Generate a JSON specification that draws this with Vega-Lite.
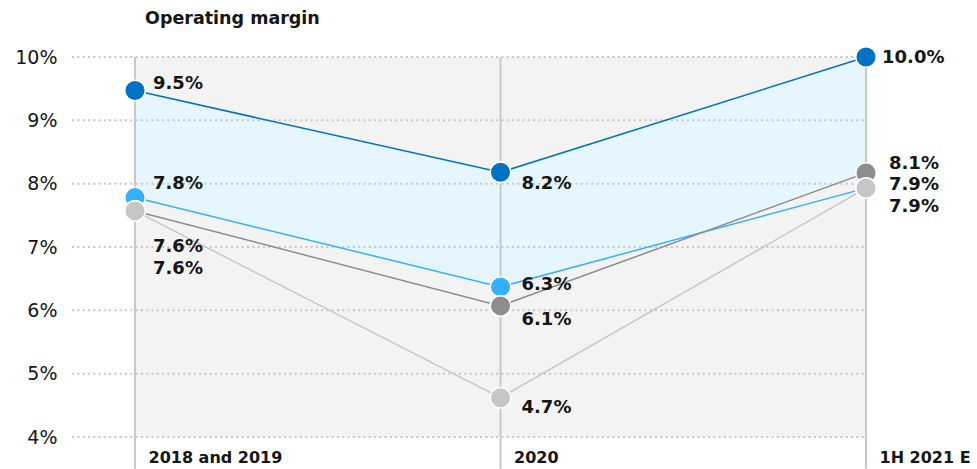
{
  "$schema": "https://vega.github.io/schema/vega-lite/v6.json",
  "width": 794,
  "height": 380,
  "autosize": {"type": "none"},
  "padding": {"left": 72, "top": 57, "right": 111, "bottom": 32},
  "background": "white",
  "config": {"font": "DejaVu Sans", "view": {"stroke": null}},
  "title": {"text": "Operating margin", "anchor": "start", "frame": "group", "dx": 73, "dy": 20, "offset": 22, "baseline": "alphabetic", "fontSize": 17.5, "fontWeight": "bold", "color": "#161616"},
  "datasets": {
    "margins": [
      {"period": "2018 and 2019", "idx": 0, "series": "A", "value": 9.47, "label": "9.5%"},
      {"period": "2020", "idx": 1, "series": "A", "value": 8.18, "label": "8.2%"},
      {"period": "1H 2021 E", "idx": 2, "series": "A", "value": 10.0, "label": "10.0%"},
      {"period": "2018 and 2019", "idx": 0, "series": "B", "value": 7.78, "label": "7.8%"},
      {"period": "2020", "idx": 1, "series": "B", "value": 6.37, "label": "6.3%"},
      {"period": "1H 2021 E", "idx": 2, "series": "B", "value": 7.93, "label": "7.9%"},
      {"period": "2018 and 2019", "idx": 0, "series": "C", "value": 7.57, "label": "7.6%"},
      {"period": "2020", "idx": 1, "series": "C", "value": 6.07, "label": "6.1%"},
      {"period": "1H 2021 E", "idx": 2, "series": "C", "value": 8.17, "label": "8.1%"},
      {"period": "2018 and 2019", "idx": 0, "series": "D", "value": 7.57, "label": "7.6%"},
      {"period": "2020", "idx": 1, "series": "D", "value": 4.62, "label": "4.7%"},
      {"period": "1H 2021 E", "idx": 2, "series": "D", "value": 7.93, "label": "7.9%"}
    ],
    "grid": [{"pct": 4}, {"pct": 5}, {"pct": 6}, {"pct": 7}, {"pct": 8}, {"pct": 9}, {"pct": 10}]
  },
  "data": {"name": "margins"},
  "layer": [
    {
      "data": {"values": [{}]},
      "mark": {"type": "rect", "color": "#f3f3f3"},
      "encoding": {
        "x": {"datum": 0, "type": "quantitative"},
        "x2": {"datum": 2},
        "y": {"datum": 10, "type": "quantitative"},
        "y2": {"datum": 4}
      }
    },
    {
      "transform": [{"pivot": "series", "value": "value", "groupby": ["idx"]}],
      "mark": {"type": "area", "color": "#e5f6ff", "opacity": 1},
      "encoding": {
        "x": {"field": "idx", "type": "quantitative", "title": null},
        "y": {"field": "A", "type": "quantitative", "title": null},
        "y2": {"field": "B"}
      }
    },
    {
      "transform": [{"pivot": "series", "value": "value", "groupby": ["idx"]}],
      "mark": {"type": "area", "color": "#f3f3f3", "opacity": 1},
      "encoding": {
        "x": {"field": "idx", "type": "quantitative", "title": null},
        "y": {"field": "C", "type": "quantitative", "title": null},
        "y2": {"datum": 4}
      }
    },
    {
      "data": {"name": "grid"},
      "mark": {"type": "rule", "color": "#c6c6c6", "strokeWidth": 2, "strokeDash": [2, 3.3]},
      "encoding": {
        "y": {"field": "pct", "type": "quantitative", "title": null},
        "x": {"datum": -0.1724, "type": "quantitative"},
        "x2": {"datum": 2}
      }
    },
    {
      "transform": [{"filter": "datum.series == 'A'"}],
      "mark": {"type": "rule", "color": "#c8c8c8", "strokeWidth": 2},
      "encoding": {
        "x": {"field": "idx", "type": "quantitative", "title": null},
        "y": {"datum": 10, "type": "quantitative"},
        "y2": {"datum": 3.5}
      }
    },
    {
      "mark": {"type": "line", "strokeWidth": 1.5},
      "encoding": {
        "x": {
          "field": "idx", "type": "quantitative", "title": null,
          "scale": {"domain": [-0.1724, 2], "nice": false, "zero": false},
          "axis": {
            "values": [0, 1, 2],
            "labelExpr": "datum.value == 0 ? '2018 and 2019' : datum.value == 1 ? '2020' : '1H 2021 E'",
            "domain": false, "ticks": false, "grid": false,
            "labelAlign": "left", "labelOffset": 13, "labelPadding": 12, "labelBaseline": "top",
            "labelFontSize": 16, "labelFontWeight": "bold", "labelColor": "#161616",
            "labelFlush": false, "labelBound": false, "labelOverlap": false
          }
        },
        "y": {
          "field": "value", "type": "quantitative", "title": null,
          "scale": {"domain": [4, 10], "nice": false, "zero": false},
          "axis": {
            "values": [4, 5, 6, 7, 8, 9, 10],
            "labelExpr": "datum.value + '%'",
            "domain": false, "ticks": false, "grid": false,
            "labelPadding": 15, "labelFontSize": 19, "labelColor": "#161616"
          }
        },
        "color": {
          "field": "series", "type": "nominal", "legend": null,
          "scale": {"domain": ["A", "B", "C", "D"], "range": ["#0072c3", "#33b1ff", "#8d8d8d", "#c6c6c6"]}
        },
        "detail": {"field": "series"}
      }
    },
    {
      "mark": {"type": "circle", "size": 420, "opacity": 1, "stroke": "white", "strokeWidth": 1.5},
      "encoding": {
        "x": {"field": "idx", "type": "quantitative", "title": null},
        "y": {"field": "value", "type": "quantitative", "title": null},
        "fill": {"field": "series", "type": "nominal", "legend": null,
          "scale": {"domain": ["A", "B", "C", "D"], "range": ["#0072c3", "#33b1ff", "#8d8d8d", "#c6c6c6"]}}
      }
    },
    {"transform": [{"filter": "datum.series == 'A' && datum.idx == 0"}],
     "mark": {"type": "text", "align": "left", "baseline": "middle", "dx": 18, "dy": -7, "fontSize": 18, "fontWeight": "bold", "color": "#161616"},
     "encoding": {"x": {"field": "idx", "type": "quantitative"}, "y": {"field": "value", "type": "quantitative"}, "text": {"field": "label"}}},
    {"transform": [{"filter": "datum.series == 'B' && datum.idx == 0"}],
     "mark": {"type": "text", "align": "left", "baseline": "middle", "dx": 18, "dy": -14, "fontSize": 18, "fontWeight": "bold", "color": "#161616"},
     "encoding": {"x": {"field": "idx", "type": "quantitative"}, "y": {"field": "value", "type": "quantitative"}, "text": {"field": "label"}}},
    {"transform": [{"filter": "datum.series == 'C' && datum.idx == 0"}],
     "mark": {"type": "text", "align": "left", "baseline": "middle", "dx": 18, "dy": 36, "fontSize": 18, "fontWeight": "bold", "color": "#161616"},
     "encoding": {"x": {"field": "idx", "type": "quantitative"}, "y": {"field": "value", "type": "quantitative"}, "text": {"field": "label"}}},
    {"transform": [{"filter": "datum.series == 'D' && datum.idx == 0"}],
     "mark": {"type": "text", "align": "left", "baseline": "middle", "dx": 18, "dy": 58, "fontSize": 18, "fontWeight": "bold", "color": "#161616"},
     "encoding": {"x": {"field": "idx", "type": "quantitative"}, "y": {"field": "value", "type": "quantitative"}, "text": {"field": "label"}}},
    {"transform": [{"filter": "datum.series == 'A' && datum.idx == 1"}],
     "mark": {"type": "text", "align": "left", "baseline": "middle", "dx": 21, "dy": 12, "fontSize": 18, "fontWeight": "bold", "color": "#161616"},
     "encoding": {"x": {"field": "idx", "type": "quantitative"}, "y": {"field": "value", "type": "quantitative"}, "text": {"field": "label"}}},
    {"transform": [{"filter": "datum.series == 'B' && datum.idx == 1"}],
     "mark": {"type": "text", "align": "left", "baseline": "middle", "dx": 21, "dy": -2, "fontSize": 18, "fontWeight": "bold", "color": "#161616"},
     "encoding": {"x": {"field": "idx", "type": "quantitative"}, "y": {"field": "value", "type": "quantitative"}, "text": {"field": "label"}}},
    {"transform": [{"filter": "datum.series == 'C' && datum.idx == 1"}],
     "mark": {"type": "text", "align": "left", "baseline": "middle", "dx": 21, "dy": 14, "fontSize": 18, "fontWeight": "bold", "color": "#161616"},
     "encoding": {"x": {"field": "idx", "type": "quantitative"}, "y": {"field": "value", "type": "quantitative"}, "text": {"field": "label"}}},
    {"transform": [{"filter": "datum.series == 'D' && datum.idx == 1"}],
     "mark": {"type": "text", "align": "left", "baseline": "middle", "dx": 21, "dy": 10, "fontSize": 18, "fontWeight": "bold", "color": "#161616"},
     "encoding": {"x": {"field": "idx", "type": "quantitative"}, "y": {"field": "value", "type": "quantitative"}, "text": {"field": "label"}}},
    {"transform": [{"filter": "datum.series == 'A' && datum.idx == 2"}],
     "mark": {"type": "text", "align": "left", "baseline": "middle", "dx": 16, "dy": 1, "fontSize": 18, "fontWeight": "bold", "color": "#161616"},
     "encoding": {"x": {"field": "idx", "type": "quantitative"}, "y": {"field": "value", "type": "quantitative"}, "text": {"field": "label"}}},
    {"transform": [{"filter": "datum.series == 'C' && datum.idx == 2"}],
     "mark": {"type": "text", "align": "left", "baseline": "middle", "dx": 23, "dy": -9, "fontSize": 18, "fontWeight": "bold", "color": "#161616"},
     "encoding": {"x": {"field": "idx", "type": "quantitative"}, "y": {"field": "value", "type": "quantitative"}, "text": {"field": "label"}}},
    {"transform": [{"filter": "datum.series == 'B' && datum.idx == 2"}],
     "mark": {"type": "text", "align": "left", "baseline": "middle", "dx": 23, "dy": -3, "fontSize": 18, "fontWeight": "bold", "color": "#161616"},
     "encoding": {"x": {"field": "idx", "type": "quantitative"}, "y": {"field": "value", "type": "quantitative"}, "text": {"field": "label"}}},
    {"transform": [{"filter": "datum.series == 'D' && datum.idx == 2"}],
     "mark": {"type": "text", "align": "left", "baseline": "middle", "dx": 23, "dy": 19, "fontSize": 18, "fontWeight": "bold", "color": "#161616"},
     "encoding": {"x": {"field": "idx", "type": "quantitative"}, "y": {"field": "value", "type": "quantitative"}, "text": {"field": "label"}}}
  ]
}
